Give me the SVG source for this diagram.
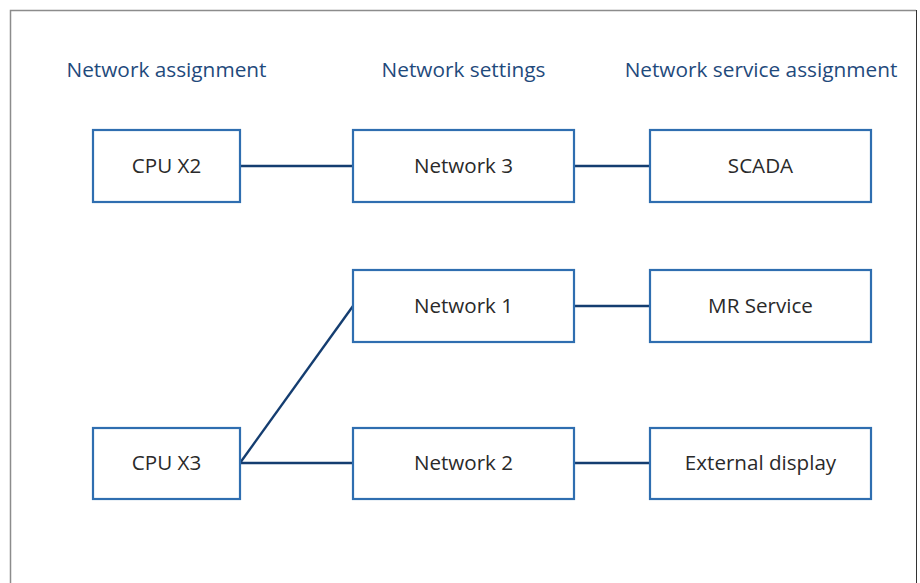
<svg xmlns="http://www.w3.org/2000/svg" width="920" height="583" viewBox="0 0 920 583">
<style>
.hdr{font-family:"Open Sans","Noto Sans",sans-serif;font-size:20.8px;fill:#1f4a7c;text-anchor:middle}
.box{fill:#fff;stroke:#2f6eb0;stroke-width:2.2}
.lbl{font-family:"Open Sans","Noto Sans",sans-serif;font-size:20.6px;fill:#2a2a2a;text-anchor:middle}
.con{stroke:#143d70;stroke-width:2.4;fill:none}
</style>
<rect width="920" height="583" fill="#fff"/>
<path d="M10.5 583V10.5H916" fill="none" stroke="#8c8c8c" stroke-width="1.5"/>
<path d="M916.5 10V583" fill="none" stroke="#333" stroke-width="1"/>
<text class="hdr" x="166.5" y="77">Network assignment</text>
<text class="hdr" x="463.5" y="77">Network settings</text>
<text class="hdr" x="761" y="77">Network service assignment</text>
<g id="connectors">
<line class="con" x1="240" y1="166" x2="353" y2="166"/>
<line class="con" x1="574" y1="166" x2="650" y2="166"/>
<line class="con" x1="240" y1="463" x2="353" y2="306"/>
<line class="con" x1="240" y1="463" x2="353" y2="463"/>
<line class="con" x1="574" y1="306" x2="650" y2="306"/>
<line class="con" x1="574" y1="463" x2="650" y2="463"/>
</g>
<g id="cpu-x2"><rect class="box" x="93" y="130" width="147" height="72"/><text class="lbl" x="166.5" y="173">CPU X2</text></g>
<g id="network-3"><rect class="box" x="353" y="130" width="221" height="72"/><text class="lbl" x="463.5" y="173">Network 3</text></g>
<g id="scada"><rect class="box" x="650" y="130" width="221" height="72"/><text class="lbl" x="760.5" y="173">SCADA</text></g>
<g id="network-1"><rect class="box" x="353" y="270" width="221" height="72"/><text class="lbl" x="463.5" y="313">Network 1</text></g>
<g id="mr-service"><rect class="box" x="650" y="270" width="221" height="72"/><text class="lbl" x="760.5" y="313">MR Service</text></g>
<g id="cpu-x3"><rect class="box" x="93" y="428" width="147" height="71"/><text class="lbl" x="166.5" y="470">CPU X3</text></g>
<g id="network-2"><rect class="box" x="353" y="428" width="221" height="71"/><text class="lbl" x="463.5" y="470">Network 2</text></g>
<g id="external-display"><rect class="box" x="650" y="428" width="221" height="71"/><text class="lbl" x="760.5" y="470">External display</text></g>
</svg>
